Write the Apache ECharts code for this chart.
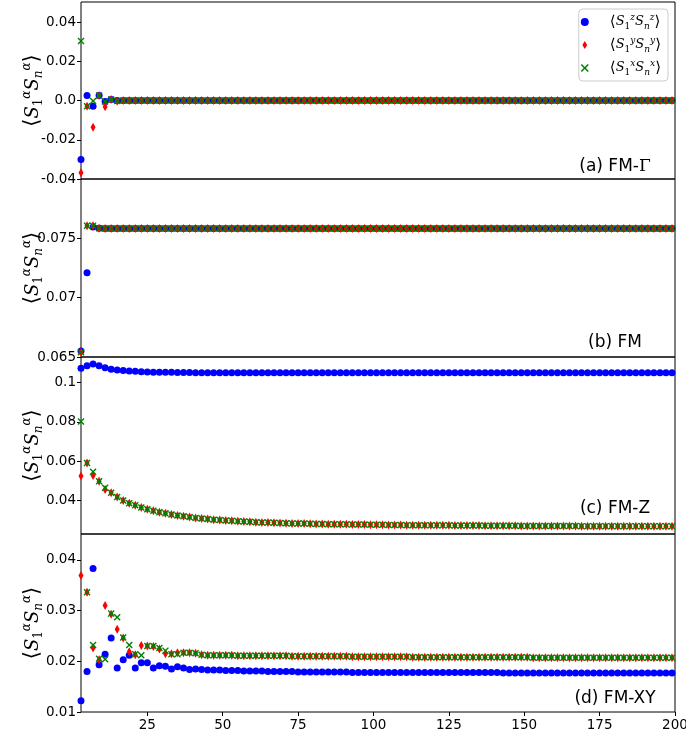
<!DOCTYPE html>
<html>
<head>
<meta charset="utf-8">
<script src="https://cdn.jsdelivr.net/npm/echarts@6/dist/echarts.min.js"></script>
</head>
<body style="margin:0;background:#fff">
<div id="main" style="width:686px;height:740px;"></div>
<script type="text/javascript">
// site index n (odd sites 3..199)
var nVals = [
    3, 5, 7, 9, 11, 13, 15, 17, 19, 21,
    23, 25, 27, 29, 31, 33, 35, 37, 39, 41,
    43, 45, 47, 49, 51, 53, 55, 57, 59, 61,
    63, 65, 67, 69, 71, 73, 75, 77, 79, 81,
    83, 85, 87, 89, 91, 93, 95, 97, 99, 101,
    103, 105, 107, 109, 111, 113, 115, 117, 119, 121,
    123, 125, 127, 129, 131, 133, 135, 137, 139, 141,
    143, 145, 147, 149, 151, 153, 155, 157, 159, 161,
    163, 165, 167, 169, 171, 173, 175, 177, 179, 181,
    183, 185, 187, 189, 191, 193, 195, 197, 199
];

// (a) FM-Gamma
var gammaZ = [
    -0.0300, 0.0025, -0.0029, 0.0025, -0.0005, 0.0005, 0, 0, 0, 0,
    0, 0, 0, 0, 0, 0, 0, 0, 0, 0,
    0, 0, 0, 0, 0, 0, 0, 0, 0, 0,
    0, 0, 0, 0, 0, 0, 0, 0, 0, 0,
    0, 0, 0, 0, 0, 0, 0, 0, 0, 0,
    0, 0, 0, 0, 0, 0, 0, 0, 0, 0,
    0, 0, 0, 0, 0, 0, 0, 0, 0, 0,
    0, 0, 0, 0, 0, 0, 0, 0, 0, 0,
    0, 0, 0, 0, 0, 0, 0, 0, 0, 0,
    0, 0, 0, 0, 0, 0, 0, 0, 0
];
var gammaY = [
    -0.0368, -0.0029, -0.0136, 0.0025, -0.0032, 0.0005, -0.0004, 0, 0, 0,
    0, 0, 0, 0, 0, 0, 0, 0, 0, 0,
    0, 0, 0, 0, 0, 0, 0, 0, 0, 0,
    0, 0, 0, 0, 0, 0, 0, 0, 0, 0,
    0, 0, 0, 0, 0, 0, 0, 0, 0, 0,
    0, 0, 0, 0, 0, 0, 0, 0, 0, 0,
    0, 0, 0, 0, 0, 0, 0, 0, 0, 0,
    0, 0, 0, 0, 0, 0, 0, 0, 0, 0,
    0, 0, 0, 0, 0, 0, 0, 0, 0, 0,
    0, 0, 0, 0, 0, 0, 0, 0, 0
];
var gammaX = [
    0.0303, -0.0029, -0.0003, 0.0025, -0.0005, 0.0005, -0.0002, 0, 0, 0,
    0, 0, 0, 0, 0, 0, 0, 0, 0, 0,
    0, 0, 0, 0, 0, 0, 0, 0, 0, 0,
    0, 0, 0, 0, 0, 0, 0, 0, 0, 0,
    0, 0, 0, 0, 0, 0, 0, 0, 0, 0,
    0, 0, 0, 0, 0, 0, 0, 0, 0, 0,
    0, 0, 0, 0, 0, 0, 0, 0, 0, 0,
    0, 0, 0, 0, 0, 0, 0, 0, 0, 0,
    0, 0, 0, 0, 0, 0, 0, 0, 0, 0,
    0, 0, 0, 0, 0, 0, 0, 0, 0
];

// (b) FM
var fmZ = [
    0.0655, 0.0721, 0.07596, 0.07585, 0.07583, 0.07583, 0.07583, 0.07583, 0.07583, 0.07583,
    0.07583, 0.07583, 0.07583, 0.07583, 0.07583, 0.07583, 0.07583, 0.07583, 0.07583, 0.07583,
    0.07583, 0.07583, 0.07583, 0.07583, 0.07583, 0.07583, 0.07583, 0.07583, 0.07583, 0.07583,
    0.07583, 0.07583, 0.07583, 0.07583, 0.07583, 0.07583, 0.07583, 0.07583, 0.07583, 0.07583,
    0.07583, 0.07583, 0.07583, 0.07583, 0.07583, 0.07583, 0.07583, 0.07583, 0.07583, 0.07583,
    0.07583, 0.07583, 0.07583, 0.07583, 0.07583, 0.07583, 0.07583, 0.07583, 0.07583, 0.07583,
    0.07583, 0.07583, 0.07583, 0.07583, 0.07583, 0.07583, 0.07583, 0.07583, 0.07583, 0.07583,
    0.07583, 0.07583, 0.07583, 0.07583, 0.07583, 0.07583, 0.07583, 0.07583, 0.07583, 0.07583,
    0.07583, 0.07583, 0.07583, 0.07583, 0.07583, 0.07583, 0.07583, 0.07583, 0.07583, 0.07583,
    0.07583, 0.07583, 0.07583, 0.07583, 0.07583, 0.07583, 0.07583, 0.07583, 0.07583
];
var fmY = [
    0.0654, 0.07607, 0.07607, 0.07585, 0.07583, 0.07583, 0.07583, 0.07583, 0.07583, 0.07583,
    0.07583, 0.07583, 0.07583, 0.07583, 0.07583, 0.07583, 0.07583, 0.07583, 0.07583, 0.07583,
    0.07583, 0.07583, 0.07583, 0.07583, 0.07583, 0.07583, 0.07583, 0.07583, 0.07583, 0.07583,
    0.07583, 0.07583, 0.07583, 0.07583, 0.07583, 0.07583, 0.07583, 0.07583, 0.07583, 0.07583,
    0.07583, 0.07583, 0.07583, 0.07583, 0.07583, 0.07583, 0.07583, 0.07583, 0.07583, 0.07583,
    0.07583, 0.07583, 0.07583, 0.07583, 0.07583, 0.07583, 0.07583, 0.07583, 0.07583, 0.07583,
    0.07583, 0.07583, 0.07583, 0.07583, 0.07583, 0.07583, 0.07583, 0.07583, 0.07583, 0.07583,
    0.07583, 0.07583, 0.07583, 0.07583, 0.07583, 0.07583, 0.07583, 0.07583, 0.07583, 0.07583,
    0.07583, 0.07583, 0.07583, 0.07583, 0.07583, 0.07583, 0.07583, 0.07583, 0.07583, 0.07583,
    0.07583, 0.07583, 0.07583, 0.07583, 0.07583, 0.07583, 0.07583, 0.07583, 0.07583
];
var fmX = [
    0.0654, 0.07607, 0.07607, 0.07585, 0.07583, 0.07583, 0.07583, 0.07583, 0.07583, 0.07583,
    0.07583, 0.07583, 0.07583, 0.07583, 0.07583, 0.07583, 0.07583, 0.07583, 0.07583, 0.07583,
    0.07583, 0.07583, 0.07583, 0.07583, 0.07583, 0.07583, 0.07583, 0.07583, 0.07583, 0.07583,
    0.07583, 0.07583, 0.07583, 0.07583, 0.07583, 0.07583, 0.07583, 0.07583, 0.07583, 0.07583,
    0.07583, 0.07583, 0.07583, 0.07583, 0.07583, 0.07583, 0.07583, 0.07583, 0.07583, 0.07583,
    0.07583, 0.07583, 0.07583, 0.07583, 0.07583, 0.07583, 0.07583, 0.07583, 0.07583, 0.07583,
    0.07583, 0.07583, 0.07583, 0.07583, 0.07583, 0.07583, 0.07583, 0.07583, 0.07583, 0.07583,
    0.07583, 0.07583, 0.07583, 0.07583, 0.07583, 0.07583, 0.07583, 0.07583, 0.07583, 0.07583,
    0.07583, 0.07583, 0.07583, 0.07583, 0.07583, 0.07583, 0.07583, 0.07583, 0.07583, 0.07583,
    0.07583, 0.07583, 0.07583, 0.07583, 0.07583, 0.07583, 0.07583, 0.07583, 0.07583
];

// (c) FM-Z
var fmzZ = [
    0.1073, 0.1085, 0.1095, 0.1085, 0.1075, 0.1068, 0.1064, 0.1061, 0.1059, 0.1057,
    0.1055, 0.1054, 0.1053, 0.1053, 0.1052, 0.1052, 0.1051, 0.1051, 0.1051, 0.1050,
    0.1050, 0.1050, 0.1050, 0.1050, 0.1050, 0.1050, 0.1050, 0.1050, 0.1050, 0.1050,
    0.1050, 0.1050, 0.1050, 0.1050, 0.1050, 0.1050, 0.1050, 0.1050, 0.1050, 0.1050,
    0.1050, 0.1050, 0.1050, 0.1050, 0.1050, 0.1050, 0.1050, 0.1050, 0.1050, 0.1050,
    0.1050, 0.1050, 0.1050, 0.1050, 0.1050, 0.1050, 0.1050, 0.1050, 0.1050, 0.1050,
    0.1050, 0.1050, 0.1050, 0.1050, 0.1050, 0.1050, 0.1050, 0.1050, 0.1050, 0.1050,
    0.1050, 0.1050, 0.1050, 0.1050, 0.1050, 0.1050, 0.1050, 0.1050, 0.1050, 0.1050,
    0.1050, 0.1050, 0.1050, 0.1050, 0.1050, 0.1050, 0.1050, 0.1050, 0.1050, 0.1050,
    0.1050, 0.1050, 0.1050, 0.1050, 0.1050, 0.1050, 0.1050, 0.1050, 0.1050
];
var fmzY = [
    0.0524, 0.0590, 0.0527, 0.0497, 0.0456, 0.0439, 0.0417, 0.0400, 0.0386, 0.0375,
    0.0364, 0.0355, 0.0347, 0.0340, 0.0334, 0.0328, 0.0323, 0.0319, 0.0315, 0.0311,
    0.0308, 0.0305, 0.0302, 0.0300, 0.0298, 0.0296, 0.0294, 0.0292, 0.0291, 0.0289,
    0.0288, 0.0287, 0.0286, 0.0285, 0.0284, 0.0283, 0.0282, 0.0282, 0.0281, 0.0280,
    0.0280, 0.0279, 0.0279, 0.0278, 0.0278, 0.0277, 0.0277, 0.0277, 0.0276, 0.0276,
    0.0276, 0.0275, 0.0275, 0.0275, 0.0274, 0.0274, 0.0274, 0.0274, 0.0273, 0.0273,
    0.0273, 0.0273, 0.0272, 0.0272, 0.0272, 0.0272, 0.0272, 0.0271, 0.0271, 0.0271,
    0.0271, 0.0271, 0.0271, 0.0270, 0.0270, 0.0270, 0.0270, 0.0270, 0.0270, 0.0270,
    0.0270, 0.0270, 0.0270, 0.0269, 0.0269, 0.0269, 0.0269, 0.0269, 0.0269, 0.0269,
    0.0269, 0.0269, 0.0269, 0.0269, 0.0269, 0.0269, 0.0269, 0.0269, 0.0269
];
var fmzX = [
    0.0802, 0.0590, 0.0546, 0.0497, 0.0464, 0.0439, 0.0417, 0.0400, 0.0386, 0.0375,
    0.0364, 0.0355, 0.0347, 0.0340, 0.0334, 0.0328, 0.0323, 0.0319, 0.0315, 0.0311,
    0.0308, 0.0305, 0.0302, 0.0300, 0.0298, 0.0296, 0.0294, 0.0292, 0.0291, 0.0289,
    0.0288, 0.0287, 0.0286, 0.0285, 0.0284, 0.0283, 0.0282, 0.0282, 0.0281, 0.0280,
    0.0280, 0.0279, 0.0279, 0.0278, 0.0278, 0.0277, 0.0277, 0.0277, 0.0276, 0.0276,
    0.0276, 0.0275, 0.0275, 0.0275, 0.0274, 0.0274, 0.0274, 0.0274, 0.0273, 0.0273,
    0.0273, 0.0273, 0.0272, 0.0272, 0.0272, 0.0272, 0.0272, 0.0271, 0.0271, 0.0271,
    0.0271, 0.0271, 0.0271, 0.0270, 0.0270, 0.0270, 0.0270, 0.0270, 0.0270, 0.0270,
    0.0270, 0.0270, 0.0270, 0.0269, 0.0269, 0.0269, 0.0269, 0.0269, 0.0269, 0.0269,
    0.0269, 0.0269, 0.0269, 0.0269, 0.0269, 0.0269, 0.0269, 0.0269, 0.0269
];

// (d) FM-XY
var fmxyZ = [
    0.0122, 0.0180, 0.0383, 0.0193, 0.0214, 0.0246, 0.0187, 0.0203, 0.0212, 0.0187,
    0.0197, 0.0197, 0.0187, 0.0191, 0.0190, 0.0185, 0.0189, 0.0187, 0.0184, 0.0185,
    0.0184, 0.0183, 0.0183, 0.0183, 0.0182, 0.0182, 0.0182, 0.0181, 0.0181, 0.0181,
    0.0181, 0.0180, 0.0180, 0.0180, 0.0180, 0.0180, 0.0179, 0.0179, 0.0179, 0.0179,
    0.0179, 0.0179, 0.0179, 0.0179, 0.0179, 0.0178, 0.0178, 0.0178, 0.0178, 0.0178,
    0.0178, 0.0178, 0.0178, 0.0178, 0.0178, 0.0178, 0.0178, 0.0178, 0.0178, 0.0178,
    0.0178, 0.0178, 0.0178, 0.0178, 0.0178, 0.0178, 0.0178, 0.0178, 0.0178, 0.0178,
    0.0177, 0.0177, 0.0177, 0.0177, 0.0177, 0.0177, 0.0177, 0.0177, 0.0177, 0.0177,
    0.0177, 0.0177, 0.0177, 0.0177, 0.0177, 0.0177, 0.0177, 0.0177, 0.0177, 0.0177,
    0.0177, 0.0177, 0.0177, 0.0177, 0.0177, 0.0177, 0.0177, 0.0177, 0.0177
];
var fmxyY = [
    0.0369, 0.0336, 0.0226, 0.0203, 0.0310, 0.0293, 0.0263, 0.0246, 0.0219, 0.0213,
    0.0231, 0.0230, 0.0229, 0.0224, 0.0215, 0.0215, 0.0217, 0.0217, 0.0217, 0.0216,
    0.0213, 0.0212, 0.0212, 0.0212, 0.0212, 0.0212, 0.0211, 0.0211, 0.0211, 0.0211,
    0.0211, 0.0211, 0.0211, 0.0211, 0.0211, 0.0210, 0.0210, 0.0210, 0.0210, 0.0210,
    0.0210, 0.0210, 0.0210, 0.0210, 0.0210, 0.0209, 0.0209, 0.0209, 0.0209, 0.0209,
    0.0209, 0.0209, 0.0209, 0.0209, 0.0209, 0.0208, 0.0208, 0.0208, 0.0208, 0.0208,
    0.0208, 0.0208, 0.0208, 0.0208, 0.0208, 0.0208, 0.0208, 0.0208, 0.0208, 0.0208,
    0.0208, 0.0208, 0.0208, 0.0208, 0.0208, 0.0207, 0.0207, 0.0207, 0.0207, 0.0207,
    0.0207, 0.0207, 0.0207, 0.0207, 0.0207, 0.0207, 0.0207, 0.0207, 0.0207, 0.0207,
    0.0207, 0.0207, 0.0207, 0.0207, 0.0207, 0.0207, 0.0207, 0.0207, 0.0207
];
var fmxyX = [
    null, 0.0336, 0.0232, 0.0205, 0.0204, 0.0294, 0.0287, 0.0247, 0.0232, 0.0214,
    0.0212, 0.0230, 0.0230, 0.0226, 0.0221, 0.0214, 0.0214, 0.0217, 0.0217, 0.0216,
    0.0213, 0.0212, 0.0212, 0.0212, 0.0212, 0.0212, 0.0211, 0.0211, 0.0211, 0.0211,
    0.0211, 0.0211, 0.0211, 0.0211, 0.0211, 0.0210, 0.0210, 0.0210, 0.0210, 0.0210,
    0.0210, 0.0210, 0.0210, 0.0210, 0.0210, 0.0209, 0.0209, 0.0209, 0.0209, 0.0209,
    0.0209, 0.0209, 0.0209, 0.0209, 0.0209, 0.0208, 0.0208, 0.0208, 0.0208, 0.0208,
    0.0208, 0.0208, 0.0208, 0.0208, 0.0208, 0.0208, 0.0208, 0.0208, 0.0208, 0.0208,
    0.0208, 0.0208, 0.0208, 0.0208, 0.0208, 0.0207, 0.0207, 0.0207, 0.0207, 0.0207,
    0.0207, 0.0207, 0.0207, 0.0207, 0.0207, 0.0207, 0.0207, 0.0207, 0.0207, 0.0207,
    0.0207, 0.0207, 0.0207, 0.0207, 0.0207, 0.0207, 0.0207, 0.0207, 0.0207
];

// tick values / labels
var xTicks = [25, 50, 75, 100, 125, 150, 175, 200];
var xLabels = ['25', '50', '75', '100', '125', '150', '175', '200'];
var yTicks = [
    [-0.04, -0.02, 0, 0.02, 0.04],
    [0.065, 0.07, 0.075],
    [0.04, 0.06, 0.08, 0.1],
    [0.01, 0.02, 0.03, 0.04]
];
var yLabels = [
    ['-0.04', '-0.02', '0.0', '0.02', '0.04'],
    ['0.065', '0.07', '0.075'],
    ['0.04', '0.06', '0.08', '0.1'],
    ['0.01', '0.02', '0.03', '0.04']
];
var panelNames = ['(a) FM-{g|Γ}', '(b) FM', '(c) FM-Z', '(d) FM-XY'];
var seriesNames = ['zz', 'yy', 'xx'];
var legendText = {zz: 'z', yy: 'y', xx: 'x'};
var panelData = [
    [gammaZ, gammaY, gammaX],
    [fmZ, fmY, fmX],
    [fmzZ, fmzY, fmzX],
    [fmxyZ, fmxyY, fmxyX]
];

var myChart = echarts.init(document.getElementById('main'), null, {renderer: 'canvas'});

var yRange = [[-0.04, 0.0502], [0.065, 0.0800], [0.0229, 0.1130], [0.01, 0.0451]];
var gridTop = [2, 179, 357, 534];
var gridH = [177, 178, 177, 178];
var labelY = [167, 343, 509, 699];

var xPath = 'path://M0,1.4L1.4,0L5,3.6L8.6,0L10,1.4L6.4,5L10,8.6L8.6,10L5,6.4L1.4,10L0,8.6L3.6,5Z';
var dPath = 'path://M3,0L6,5L3,10L0,5Z';
var colors = ['#0000ff', '#ff0000', '#008000'];
var symbols = ['circle', dPath, xPath];
var sizes = [7, [5, 9], 7];

var mathRich = {
    br: {fontFamily: 'DejaVu Serif', fontSize: 21, lineHeight: 24, color: '#000'},
    s: {fontFamily: 'DejaVu Serif', fontStyle: 'italic', fontSize: 18, lineHeight: 24, color: '#000'},
    sup: {fontFamily: 'DejaVu Serif', fontStyle: 'italic', fontSize: 12, lineHeight: 15, verticalAlign: 'top', color: '#000'},
    sub: {fontFamily: 'DejaVu Serif', fontSize: 12, lineHeight: 15, verticalAlign: 'bottom', color: '#000'},
    subi: {fontFamily: 'DejaVu Serif', fontStyle: 'italic', fontSize: 12, lineHeight: 15, verticalAlign: 'bottom', color: '#000'}
};
var yName = '{br|⟨}{s|S}{sub|1}{sup|α}{s|S}{subi|n}{sup|α}{br|⟩}';

var legRich = {
    br: {fontFamily: 'DejaVu Serif', fontSize: 15, lineHeight: 18, color: '#000'},
    s: {fontFamily: 'DejaVu Serif', fontStyle: 'italic', fontSize: 13, lineHeight: 18, color: '#000'},
    sup: {fontFamily: 'DejaVu Serif', fontStyle: 'italic', fontSize: 9, lineHeight: 11, verticalAlign: 'top', color: '#000'},
    sub: {fontFamily: 'DejaVu Serif', fontSize: 9, lineHeight: 11, verticalAlign: 'bottom', color: '#000'},
    subi: {fontFamily: 'DejaVu Serif', fontStyle: 'italic', fontSize: 9, lineHeight: 11, verticalAlign: 'bottom', color: '#000'}
};

function pickLabel(ticks, labels, v) {
    for (var i = 0; i < ticks.length; i++) {
        if (Math.abs(ticks[i] - v) < 1e-9) return labels[i];
    }
    return '';
}

var grids = [], xAxes = [], yAxes = [], series = [], graphics = [];
for (var p = 0; p < 4; p++) {
    grids.push({
        left: 81, right: 11, top: gridTop[p], height: gridH[p],
        show: true, borderColor: '#000', borderWidth: 1, backgroundColor: 'transparent',
        outerBoundsMode: 'none'
    });
    var last = (p === 3);
    xAxes.push({
        type: 'value', gridIndex: p, min: 3, max: 200,
        axisLine: {show: false},
        splitLine: {show: false},
        axisTick: {show: last, length: 4, lineStyle: {color: '#000'}, customValues: xTicks},
        axisLabel: {
            show: last, customValues: xTicks, fontSize: 13.5, color: '#000', margin: 6,
            fontFamily: 'DejaVu Sans',
            formatter: function (v) { return pickLabel(xTicks, xLabels, v); }
        }
    });
    (function (pp) {
        yAxes.push({
            type: 'value', gridIndex: pp, min: yRange[pp][0], max: yRange[pp][1],
            axisLine: {show: false},
            splitLine: {show: false},
            axisTick: {show: true, length: 4, lineStyle: {color: '#000'}, customValues: yTicks[pp]},
            axisLabel: {
                customValues: yTicks[pp], fontSize: 13.5, color: '#000', margin: 5,
                fontFamily: 'DejaVu Sans',
                formatter: function (v) { return pickLabel(yTicks[pp], yLabels[pp], v); }
            },
            name: yName, nameLocation: 'middle', nameGap: 36, nameRotate: 90,
            nameMoveOverlap: false,
            nameTextStyle: {rich: mathRich}
        });
    })(p);
    for (var s = 0; s < 3; s++) {
        var vals = panelData[p][s];
        var pts = [];
        for (var i = 0; i < nVals.length; i++) {
            if (vals[i] !== null) pts.push([nVals[i], vals[i]]);
        }
        series.push({
            name: seriesNames[s], type: 'scatter', xAxisIndex: p, yAxisIndex: p,
            symbol: symbols[s], symbolSize: sizes[s],
            itemStyle: {color: colors[s], opacity: 1},
            data: pts, z: 2 + s
        });
    }
    graphics.push({
        type: 'text', x: 615, y: labelY[p], z: 10,
        style: {
            text: panelNames[p], fontFamily: 'DejaVu Sans', fontSize: 17, fill: '#000',
            align: 'center', verticalAlign: 'middle',
            rich: {g: {fontFamily: 'DejaVu Serif', fontSize: 17, color: '#000'}}
        }
    });
}

var option = {
    animation: false,
    backgroundColor: '#fff',
    grid: grids,
    xAxis: xAxes,
    yAxis: yAxes,
    legend: {
        right: 18, top: 9, orient: 'vertical',
        padding: [4, 7, 4, 2],
        itemWidth: 40, itemHeight: 8, itemGap: 5,
        backgroundColor: 'rgba(255,255,255,0.8)', borderColor: '#cccccc', borderWidth: 1, borderRadius: 4,
        data: [
            {name: 'zz', icon: 'circle'},
            {name: 'yy', icon: dPath},
            {name: 'xx', icon: xPath}
        ],
        formatter: function (name) {
            var a = legendText[name];
            return '{br|⟨}{s|S}{sub|1}{sup|' + a + '}{s|S}{subi|n}{sup|' + a + '}{br|⟩}';
        },
        textStyle: {rich: legRich}
    },
    graphic: graphics,
    series: series
};

myChart.setOption(option);
</script>
</body>
</html>
